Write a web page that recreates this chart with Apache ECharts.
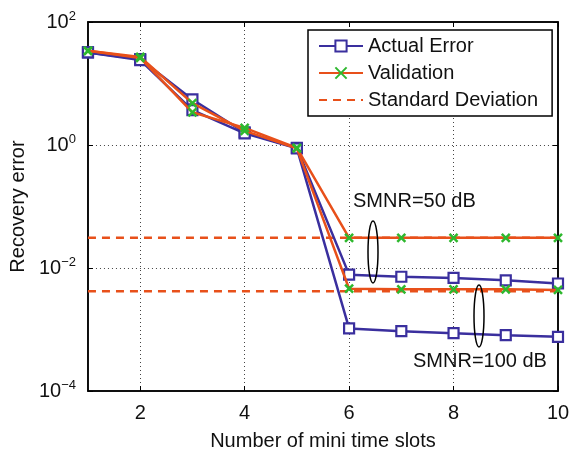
<!DOCTYPE html>
<html>
<head>
<meta charset="UTF-8">
<title>Recovery error</title>
<script type="text/javascript" src="https://cdn.jsdelivr.net/npm/echarts@6/dist/echarts.min.js"></script>
<style>
  html, body { margin: 0; padding: 0; background: #fff; }
  #main { width: 575px; height: 456px; }
</style>
</head>
<body>
<div id="main"></div>
<script type="text/javascript">
// data
var slots = [1, 2, 3, 4, 5, 6, 7, 8, 9, 10];
var actual50  = [32, 25, 5.5, 1.6, 0.9, 0.0078, 0.0072, 0.0069, 0.0063, 0.0056];
var actual100 = [32, 24, 3.7, 1.55, 0.88, 0.00104, 0.00094, 0.00087, 0.00081, 0.00076];
var valid50   = [34, 26, 3.4, 1.9, 0.9, 0.031, 0.031, 0.031, 0.031, 0.031];
var valid100  = [34, 27, 4.8, 1.7, 0.88, 0.0046, 0.0045, 0.0045, 0.0045, 0.0044];
var stdDev    = [0.031, 0.0042];
var xTicks = [2, 4, 6, 8, 10];

var BLUE = '#3a2f9e', ORANGE = '#e8501a', GREEN = '#2eb82e';
var FONT = 'Liberation Sans';

function pairs(ys) {
    return slots.map(function (x, i) { return [x, ys[i]]; });
}
function flat(v) {
    return [[slots[0], v], [slots[slots.length - 1], v]];
}

var actualStyle = {
    type: 'line', name: 'Actual Error',
    symbol: 'rect', symbolSize: 10,
    itemStyle: { color: '#fff', borderColor: BLUE, borderWidth: 2.2 },
    lineStyle: { color: BLUE, width: 2.5 },
    z: 3
};
var validStyle = {
    type: 'line', name: 'Validation',
    symbol: 'path://M0,0L10,10M0,10L10,0', symbolSize: 8,
    itemStyle: { color: 'rgba(0,0,0,0)', borderColor: GREEN, borderWidth: 2.5 },
    lineStyle: { color: ORANGE, width: 2.5 },
    z: 4
};
var stdStyle = {
    type: 'line', name: 'Standard Deviation',
    symbol: 'none',
    itemStyle: { color: ORANGE },
    lineStyle: { color: ORANGE, width: 2.5, type: [8, 6] },
    z: 2
};

var myChart = echarts.init(document.getElementById('main'));

var gridLine = { show: true, lineStyle: { color: '#444', width: 1, type: [1, 3] } };

var option = {
    animation: false,
    textStyle: { fontFamily: FONT },
    grid: { left: 86, right: 17, top: 22, bottom: 62, show: true,
            borderColor: '#000', borderWidth: 1.5, backgroundColor: '#fff' },
    legend: {
        orient: 'vertical', left: 308, top: 30,
        padding: [6, 14, 6, 10],
        itemWidth: 44, itemHeight: 14, itemGap: 7,
        borderColor: '#000', borderWidth: 1.5, backgroundColor: '#fff',
        textStyle: { fontSize: 20, color: '#111', lineHeight: 20, fontFamily: FONT },
        data: ['Actual Error', 'Validation',
               { name: 'Standard Deviation', itemStyle: { opacity: 0 } }]
    },
    xAxis: [{
        type: 'value', min: 1, max: 10,
        name: 'Number of mini time slots', nameLocation: 'middle', nameGap: 40,
        nameTextStyle: { fontSize: 20, color: '#111', fontFamily: FONT },
        axisLine: { lineStyle: { color: '#000', width: 1.5 } },
        axisTick: { inside: true, length: 5, lineStyle: { color: '#000' },
                    customValues: xTicks },
        axisLabel: { fontSize: 20, color: '#111', margin: 12, customValues: xTicks },
        splitLine: gridLine
    }, {
        type: 'value', min: 1, max: 10, position: 'top',
        axisLine: { show: true, lineStyle: { color: '#000', width: 1.5 } },
        axisTick: { inside: true, length: 5, lineStyle: { color: '#000' },
                    customValues: xTicks },
        axisLabel: { show: false },
        splitLine: { show: false }
    }],
    yAxis: [{
        type: 'log', logBase: 10, min: 1e-4, max: 1e2, interval: 2,
        name: 'Recovery error', nameLocation: 'middle', nameGap: 58,
        nameTextStyle: { fontSize: 20, color: '#111', fontFamily: FONT },
        axisLine: { show: true, lineStyle: { color: '#000', width: 1.5 } },
        axisTick: { inside: true, length: 5, lineStyle: { color: '#000' } },
        axisLabel: {
            margin: 12, color: '#111',
            formatter: function (v) {
                var e = Math.round(Math.log10(v));
                return '{b|10}{e|' + String(e).replace('-', '\u2212') + '}';
            },
            rich: {
                b: { fontSize: 20, color: '#111', fontFamily: FONT },
                e: { fontSize: 13, color: '#111', fontFamily: FONT, padding: [0, 0, 12, 0] }
            }
        },
        splitLine: gridLine
    }, {
        type: 'log', logBase: 10, min: 1e-4, max: 1e2, interval: 2, position: 'right',
        axisLine: { show: true, lineStyle: { color: '#000', width: 1.5 } },
        axisTick: { inside: true, length: 5, lineStyle: { color: '#000' } },
        axisLabel: { show: false },
        splitLine: { show: false }
    }],
    series: [
        Object.assign({ data: flat(stdDev[0]) }, stdStyle),
        Object.assign({ data: flat(stdDev[1]) }, stdStyle),
        Object.assign({ data: pairs(actual50) }, actualStyle),
        Object.assign({ data: pairs(actual100) }, actualStyle),
        Object.assign({ data: pairs(valid50) }, validStyle),
        Object.assign({ data: pairs(valid100) }, validStyle)
    ],
    graphic: [
        { type: 'text', left: 353, top: 191, z: 10,
          style: { text: 'SMNR=50 dB', fontSize: 20, fill: '#111', fontFamily: FONT } },
        { type: 'text', left: 413, top: 351, z: 10,
          style: { text: 'SMNR=100 dB', fontSize: 20, fill: '#111', fontFamily: FONT } },
        { type: 'ellipse', z: 10, shape: { cx: 373, cy: 252, rx: 5, ry: 31 },
          style: { fill: 'none', stroke: '#000', lineWidth: 1.5 } },
        { type: 'ellipse', z: 10, shape: { cx: 479, cy: 316, rx: 5, ry: 31 },
          style: { fill: 'none', stroke: '#000', lineWidth: 1.5 } }
    ]
};

myChart.setOption(option);
</script>
</body>
</html>
